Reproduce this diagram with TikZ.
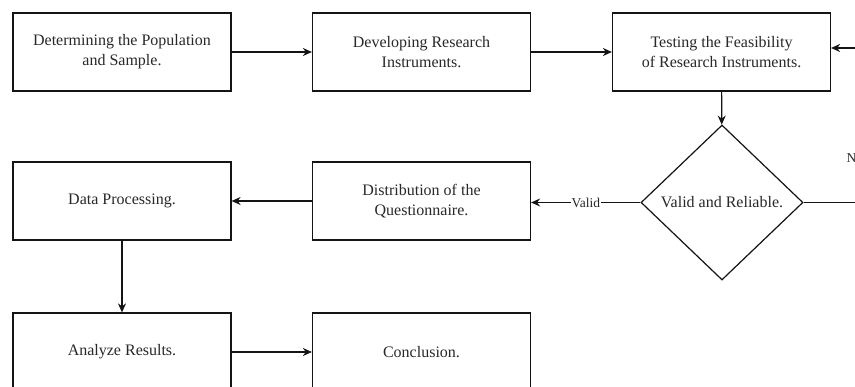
\documentclass[tikz,border=0pt]{standalone}
\usepackage{fontspec}
\setmainfont{Liberation Serif}
\usetikzlibrary{shapes.geometric,arrows.meta}
\definecolor{txt}{RGB}{40,40,40}
\definecolor{ln}{RGB}{20,20,20}
\begin{document}
\begin{tikzpicture}[x=1pt,y=-1pt,
  box/.style={draw=ln,line width=1.2pt,minimum width=218pt,minimum height=78pt,inner sep=0pt,
    align=center,text=txt,font=\fontsize{16}{20}\selectfont},
  dia/.style={draw=ln,line width=1.2pt,diamond,minimum width=162pt,minimum height=155pt,inner sep=0pt,
    align=center,text=txt,font=\fontsize{16}{20}\selectfont},
  conn/.style={draw=ln,line width=1.2pt,-{Stealth[length=9pt,width=8pt]}},
  lbl/.style={fill=white,inner sep=1pt,text=txt,font=\fontsize{13.5}{16}\selectfont}]
\useasboundingbox (0,0) rectangle (855,387);
\clip (0,0) rectangle (855,387);
\fill[white] (0,0) rectangle (855,387);
\node[box] (t1) at (122,52) {Determining the Population\\and Sample.};
\node[box] (t2) at (421.5,52) {Developing Research\\Instruments.};
\node[box] (t3) at (721.5,52) {Testing the Feasibility\\of Research Instruments.};
\node[dia] (d) at (722,202.5) {Valid and Reliable.};
\node[box] (m2) at (421.5,201) {Distribution of the\\Questionnaire.};
\node[box] (m1) at (122,201) {Data Processing.};
\node[box] (b1) at (122,352) {Analyze Results.};
\node[box] (b2) at (421.5,352) {Conclusion.};
\coordinate (noin) at (880,48);
\coordinate (noout) at (880,202.5);
\node[anchor=west,inner sep=0pt,text=txt,font=\fontsize{13.5}{16}\selectfont] (no) at (846.5,158) {No};
\draw[conn] (t1) -- (t2);
\draw[conn] (t2) -- (t3);
\draw[conn] (t3) -- (d);
\draw[conn] (d.west) -- node[lbl] {Valid} (d.west -| m2.east);
\draw[conn] (m2) -- (m1);
\draw[conn] (m1) -- (b1);
\draw[conn] (b1) -- (b2);
\draw[draw=ln,line width=1.2pt] (d.east) -- (noout);
\draw[conn] (noin) -- (noin -| t3.east);
\end{tikzpicture}
\end{document}
